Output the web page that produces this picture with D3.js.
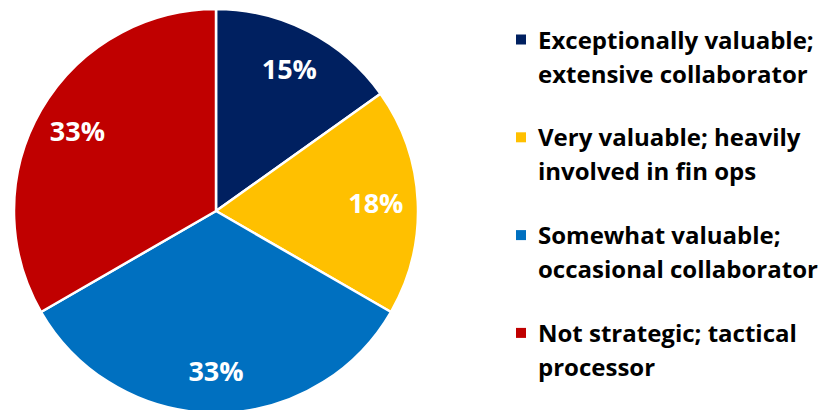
<!DOCTYPE html>
<html>
<head>
<meta charset="utf-8">
<script src="https://cdn.jsdelivr.net/npm/d3@7"></script>
<style>
  html, body { margin: 0; padding: 0; background: #fff; }
  svg { display: block; }
  text { font-family: "Open Sans", "Noto Sans", sans-serif; font-weight: bold; }
</style>
</head>
<body>
<svg id="chart" width="822" height="410"></svg>
<script>
var categories = [
  ['Exceptionally valuable;', 'extensive collaborator'],
  ['Very valuable; heavily', 'involved in fin ops'],
  ['Somewhat valuable;', 'occasional collaborator'],
  ['Not strategic; tactical', 'processor']
];
var values = [15, 18, 33, 33];
var colors = ['#002060', '#FFC000', '#0070C0', '#C00000'];

var WIDTH = 822, HEIGHT = 410,
	cx = 216, cy = 211, R = 202;

var svg = d3.select('#chart');

var pie = d3.pie().sort(null).value(function (d) { return d; });
var arcs = pie(values);

var arc = d3.arc().innerRadius(0).outerRadius(R);
var labelArc = d3.arc().innerRadius(160).outerRadius(160);

var g = svg.append('g')
	.attr('transform', 'translate(' + cx + ',' + cy + ')');

g.selectAll('path.slice')
	.data(arcs)
	.enter()
	.append('path')
	.attr('class', 'slice')
	.attr('d', arc)
	.attr('fill', function (d, i) { return colors[i]; })
	.attr('stroke', '#fff')
	.attr('stroke-width', 2.5)
	.attr('stroke-linejoin', 'round');

g.selectAll('text.pct')
	.data(arcs)
	.enter()
	.append('text')
	.attr('class', 'pct')
	.attr('transform', function (d) { return 'translate(' + labelArc.centroid(d) + ')'; })
	.attr('text-anchor', 'middle')
	.attr('dy', '0.36em')
	.attr('fill', '#fff')
	.style('font-size', '27px')
	.text(function (d) { return d.value + '%'; });

// legend
var legend = svg.append('g')
	.attr('class', 'legend')
	.attr('transform', 'translate(516,48.5)');

var item = legend.selectAll('g.item')
	.data(categories)
	.enter()
	.append('g')
	.attr('class', 'item')
	.attr('transform', function (d, i) { return 'translate(0,' + (i * 97.8) + ')'; });

item.append('rect')
	.attr('x', 0)
	.attr('y', -14)
	.attr('width', 10)
	.attr('height', 10)
	.attr('fill', function (d, i) { return colors[i]; });

item.each(function (d) {
	var t = d3.select(this).append('text')
		.attr('x', 22)
		.attr('fill', '#000')
		.style('font-size', '24px');
	d.forEach(function (line, j) {
		t.append('tspan')
			.attr('x', 22)
			.attr('y', j * 34)
			.text(line);
	});
});
</script>
</body>
</html>
